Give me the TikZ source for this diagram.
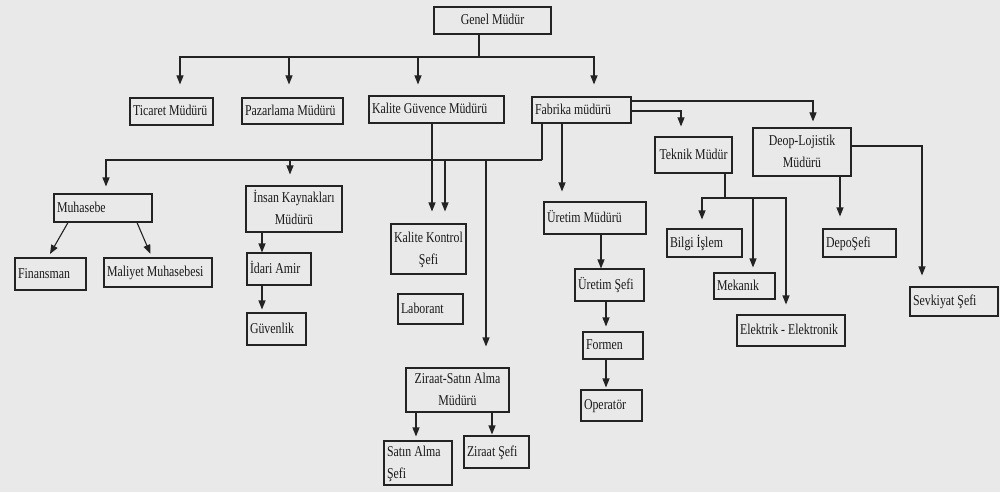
\documentclass[tikz,border=0pt]{standalone}
\usepackage{fontspec}
\setmainfont{Liberation Serif}[FakeStretch=0.79]
\usetikzlibrary{arrows.meta,shadows}
\definecolor{bgc}{RGB}{233,233,233}
\definecolor{ink}{RGB}{35,35,35}
\renewcommand\arraystretch{1.22}
\newcommand\bx[7]{%
  \node[box, minimum width={#4-#2}, minimum height={#5-#3}] (#1) at ({(#2+#4)/2},{(#3+#5)/2})
    {\pgfmathsetlengthmacro\bxwd{#4-#2-6}\makebox[\bxwd][#6]{\begin{tabular}{@{}#6@{}}#7\end{tabular}}};}
\tikzset{
  box/.style={draw=ink, line width=1.1pt, fill=bgc, inner sep=0pt, text=black!90,
    font=\fontsize{15}{18}\selectfont,
    drop shadow={shadow xshift=1pt, shadow yshift=-1.2pt, fill=black!50, opacity=1}},
  conn/.style={draw=ink, line width=1.1pt},
  arr/.style={conn, -{Triangle[width=7pt,length=9pt]}}
}
\begin{document}
\begin{tikzpicture}[x=1pt,y=-1pt]
\useasboundingbox (0,0) rectangle (1000,492);
\fill[bgc] (0,0) rectangle (1000,492);

\bx{genel}{434}{7}{551}{34}{c}{Genel Müdür}
\bx{ticaret}{130}{98}{213}{125}{l}{Ticaret Müdürü}
\bx{pazarlama}{242}{98}{343}{124}{l}{Pazarlama Müdürü}
\bx{kg}{369}{96}{504}{123}{l}{Kalite Güvence Müdürü}
\bx{fabrika}{532}{97}{631}{123}{l}{Fabrika müdürü}
\bx{teknik}{655}{137}{732}{173}{c}{Teknik Müdür}
\bx{deop}{753}{128}{851}{176}{c}{Deop-Lojistik\\Müdürü}
\bx{bilgi}{667}{229}{742}{257}{l}{Bilgi İşlem}
\bx{depo}{823}{229}{896}{257}{l}{DepoŞefi}
\bx{mekanik}{714}{273}{775}{299}{l}{Mekanık}
\bx{elektrik}{737}{315}{845}{346}{l}{Elektrik - Elektronik}
\bx{sevkiyat}{910}{287}{998}{316}{l}{Sevkiyat Şefi}
\bx{uretimm}{544}{202}{646}{234}{l}{Üretim Müdürü}
\bx{uretims}{575}{269}{644}{301}{l}{Üretim Şefi}
\bx{formen}{583}{332}{643}{359}{l}{Formen}
\bx{operator}{581}{390}{642}{421}{l}{Operatör}
\bx{kk}{391}{224}{466}{274}{c}{Kalite Kontrol\\Şefi}
\bx{laborant}{398}{294}{463}{324}{l}{Laborant}
\bx{ziraatm}{406}{368}{509}{412}{c}{Ziraat-Satın Alma\\Müdürü}
\bx{satin}{384}{441}{452}{485}{l}{Satın Alma\\Şefi}
\bx{ziraats}{464}{436}{529}{468}{l}{Ziraat Şefi}
\bx{muhasebe}{54}{194}{152}{222}{l}{Muhasebe}
\bx{ik}{246}{186}{342}{232}{c}{İnsan Kaynakları\\Müdürü}
\bx{finansman}{15}{258}{86}{290}{l}{Finansman}
\bx{maliyet}{104}{258}{212}{287}{l}{Maliyet Muhasebesi}
\bx{idari}{247}{253}{311}{285}{l}{İdari Amir}
\bx{guvenlik}{247}{313}{306}{345}{l}{Güvenlik}

% Genel Müdür
\coordinate (gj) at (479,57);
\draw[conn] ([xshift=-13.5pt]genel.south) -- (gj);
\draw[arr, shorten >=13pt] (gj) -| ([xshift=8.5pt]ticaret.north);
\draw[arr, shorten >=13pt] (gj) -| ([xshift=-3.5pt]pazarlama.north);
\draw[arr, shorten >=11pt] (gj) -| ([xshift=-18.5pt]kg.north);
\draw[arr, shorten >=12pt] (gj) -| ([xshift=12.5pt]fabrika.north);

% Fabrika müdürü
\draw[arr, shorten >=6pt] ([yshift=9pt]fabrika.east) -| ([xshift=11pt]deop.north);
\draw[arr, shorten >=10pt] ([yshift=-1pt]fabrika.east) -| ([xshift=-12.5pt]teknik.north);
\coordinate (fj) at (542,160);
\draw[conn] ([xshift=-39.5pt]fabrika.south) -- (fj);
\draw[arr, shorten >=7pt] (fj) -| ([xshift=3pt]muhasebe.north);
\draw[arr, shorten >=11pt] (fj) -| ([xshift=-4pt]ik.north);
\draw[arr, shorten >=12pt] (fj) -| ([xshift=16.5pt]kk.north);
\draw[arr, shorten >=21pt] (fj) -| ([xshift=28.5pt]ziraatm.north);
\draw[arr, shorten >=10pt] ([xshift=-19.5pt]fabrika.south) -- ([xshift=-33pt]uretimm.north);

% Kalite Güvence
\draw[arr, shorten >=12pt] ([xshift=-4.5pt]kg.south) -- ([xshift=3.5pt]kk.north);

% Teknik Müdür
\coordinate (tj) at (725,198);
\draw[conn] ([xshift=31.5pt]teknik.south) -- (tj);
\draw[arr, shorten >=9pt] (tj) -| ([xshift=-2.5pt]bilgi.north);
\draw[arr, shorten >=5pt] (tj) -| ([xshift=8.5pt]mekanik.north);
\draw[arr, shorten >=10pt] (tj) -| ([xshift=-5pt]elektrik.north);

% Deop-Lojistik
\draw[arr, shorten >=12pt] ([xshift=38pt]deop.south) -- ([xshift=-19.5pt]depo.north);
\draw[arr, shorten >=11pt] ([yshift=6pt]deop.east) -| ([xshift=-32pt]sevkiyat.north);

% Üretim
\draw[arr] ([xshift=6pt]uretimm.south) -- ([xshift=-8.5pt]uretims.north);
\draw[arr, shorten >=5pt] ([xshift=-3.5pt]uretims.south) -- ([xshift=-7pt]formen.north);
\draw[arr, shorten >=2pt] ([xshift=-7pt]formen.south) -- ([xshift=-5.5pt]operator.north);

% Ziraat
\draw[arr, shorten >=4pt] ([xshift=-41.5pt]ziraatm.south) -- ([xshift=-2pt]satin.north);
\draw[arr, shorten >=1pt] ([xshift=34.5pt]ziraatm.south) -- ([xshift=-4.5pt]ziraats.north);

% Muhasebe
\draw[arr, shorten >=4pt] ([xshift=-35pt]muhasebe.south) -- ([xshift=-2.5pt]finansman.north);
\draw[arr, shorten >=4pt] ([xshift=34pt]muhasebe.south) -- ([xshift=-6pt]maliyet.north);

% İnsan Kaynakları
\draw[arr] ([xshift=-32pt]ik.south) -- ([xshift=-17pt]idari.north);
\draw[arr, shorten >=3pt] ([xshift=-17pt]idari.south) -- ([xshift=-14.5pt]guvenlik.north);
\end{tikzpicture}
\end{document}
